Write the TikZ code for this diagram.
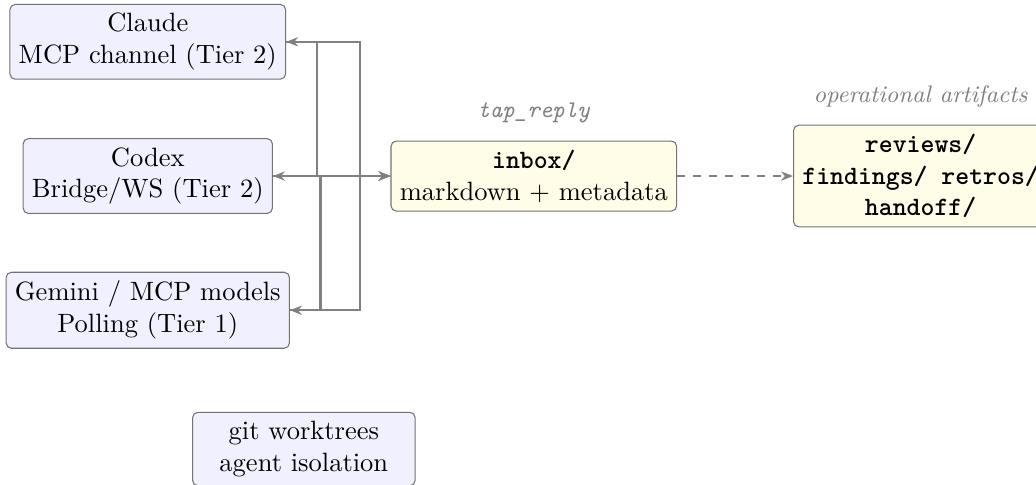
\documentclass[tikz,border=0pt]{standalone}
\usetikzlibrary{arrows.meta}

\definecolor{agentfill}{RGB}{240,240,255}
\definecolor{storefill}{RGB}{255,253,232}

\tikzset{
  agent/.style={draw=black!55, fill=agentfill, rounded corners=2pt, align=center},
  store/.style={draw=black!55, fill=storefill, rounded corners=2pt, align=center},
  lbl/.style={text=black!50, font=\small, label distance=3pt},
  flow/.style={draw=black!50, thick, -{Stealth[length=4.5pt,width=3.5pt]}},
}

\begin{document}
\begin{tikzpicture}
                \useasboundingbox (-7.08,-4.085) rectangle (6.66,2.335);

                \node[agent] (claude) at (-5.12,1.78) {Claude\\MCP channel (Tier 2)};
                \node[agent] (codex) at (-5.12,0) {Codex\\Bridge/WS (Tier 2)};
                \node[agent] (gemini) at (-5.12,-1.78) {Gemini / MCP models\\Polling (Tier 1)};
                \node[agent, minimum width=84pt] (worktrees) at (-3.05,-3.62) {git worktrees\\agent isolation};
                \node[store, label={[lbl]above:\texttt{\textit{tap\_reply}}}] (inbox) at (0,0) {\texttt{\bfseries inbox/}\\markdown $+$ metadata};
                \node[store, label={[lbl]above:\textit{operational artifacts}}] (artifacts) at (5.13,0) {\ttfamily\bfseries reviews/\\\ttfamily\bfseries findings/ retros/\\\ttfamily\bfseries handoff/};

                \coordinate (busin) at (-2.30,0);
                \coordinate (busclaude) at (-2.88,0);
                \coordinate (busgemini) at (-2.83,0);

                \draw[flow] (inbox.west) -- (busin) |- (claude.east);
                \draw[flow] (inbox.west) -- (busin) |- (gemini.east);
                \draw[flow] (inbox.west) to (codex.east);
                \draw[flow] (claude.east) -| (busclaude) -- (inbox.west);
                \draw[flow] (gemini.east) -| (busgemini) -- (inbox.west);
                \draw[flow] (codex.east) to (inbox.west);
                \draw[flow, dashed] (inbox) to (artifacts);
            \end{tikzpicture}
\end{document}
